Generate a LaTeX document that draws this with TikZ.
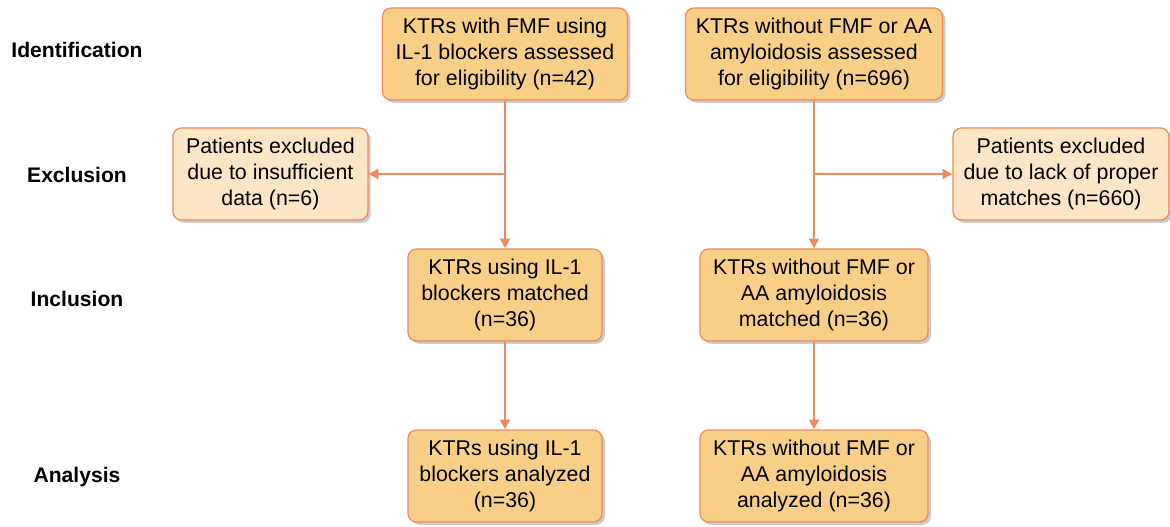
\documentclass[tikz,border=0pt]{standalone}
\usepackage{fontspec}
\setmainfont{Liberation Sans}
\usetikzlibrary{arrows.meta,shadows}
\definecolor{boxfill}{HTML}{F9CF88}
\definecolor{exfill}{HTML}{FDE6C6}
\definecolor{boxline}{HTML}{EC8A5E}
\begin{document}
\begin{tikzpicture}[
    mainbox/.style={draw=boxline,line width=0.9pt,fill=boxfill,rounded corners=6pt,
        minimum height=2.3cm,align=center,inner sep=2pt,
        font=\fontsize{15.2}{18.8}\selectfont,
        drop shadow={shadow xshift=2pt,shadow yshift=-2pt,fill=black,opacity=0.2}},
    exbox/.style={mainbox,fill=exfill},
    stage/.style={font=\fontsize{15}{18}\selectfont\bfseries},
    arr/.style={draw=boxline,line width=1.7pt,-{Triangle[length=7pt,width=7pt]}}
]
    \useasboundingbox (0,0) rectangle (29.25,-13.15);
    \node[stage] (S1) at (1.925,-1.25) {Identification};
    \node[stage] (S2) at (1.925,-4.375) {Exclusion};
    \node[stage] (S3) at (1.925,-7.475) {Inclusion};
    \node[stage] (S4) at (1.925,-11.925) {Analysis};
    \node[mainbox,minimum width=6.125cm] (TL) at (12.625,-1.35) {KTRs with FMF using\\IL-1 blockers assessed\\for eligibility (n=42)};
    \node[mainbox,minimum width=6.425cm] (TR) at (20.35,-1.35) {KTRs without FMF or AA\\amyloidosis assessed\\for eligibility (n=696)};
    \node[exbox,minimum width=4.875cm] (EL) at (6.76,-4.35) {Patients excluded\\due to insufficient\\data (n=6)};
    \node[exbox,minimum width=5.4cm] (ER) at (26.525,-4.35) {Patients excluded\\due to lack of proper\\matches (n=660)};
    \node[mainbox,minimum width=4.85cm] (IL) at (12.625,-7.375) {KTRs using IL-1\\blockers matched\\(n=36)};
    \node[mainbox,minimum width=5.7cm] (IR) at (20.35,-7.375) {KTRs without FMF or\\AA amyloidosis\\matched (n=36)};
    \node[mainbox,minimum width=4.85cm] (AL) at (12.625,-11.9) {KTRs using IL-1\\blockers analyzed\\(n=36)};
    \node[mainbox,minimum width=5.7cm] (AR) at (20.35,-11.9) {KTRs without FMF or\\AA amyloidosis\\analyzed (n=36)};
    \draw[arr] (TL) -- (IL);
    \draw[arr] (TR) -- (IR);
    \draw[arr] (TL.south |- EL.east) -- (EL.east);
    \draw[arr] (TR.south |- ER.west) -- (ER.west);
    \draw[arr] (IL) -- (AL);
    \draw[arr] (IR) -- (AR);
\end{tikzpicture}
\end{document}
